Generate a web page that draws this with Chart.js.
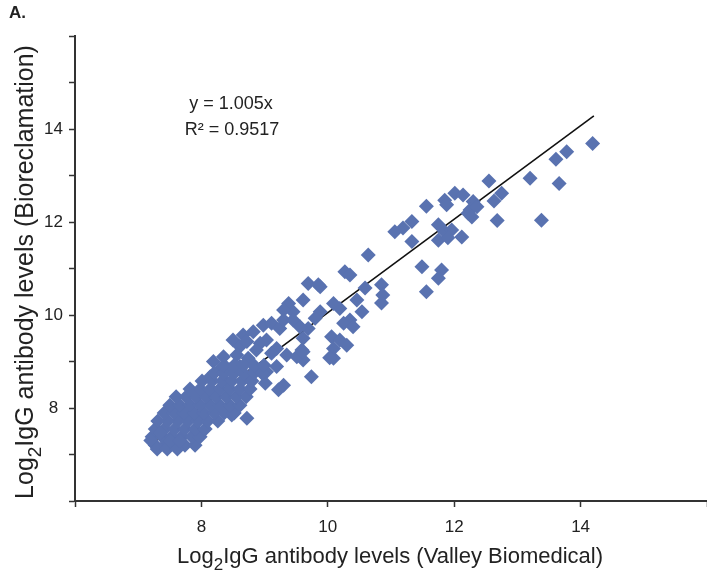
<!DOCTYPE html>
<html>
<head>
<meta charset="utf-8">
<script src="https://cdn.jsdelivr.net/npm/chart.js@4/dist/chart.umd.min.js"></script>
<style>
  body { margin: 0; background: #fff; }
  #wrap { width: 707px; height: 581px; }
</style>
</head>
<body>
<div id="wrap"><canvas id="igChart"></canvas></div>
<script>
// Log2 IgG levels: Valley Biomedical (x) vs Bioreclamation (y)
const valleyX = [
  14.19, 13.78, 13.61, 13.66, 13.2, 12.55, 12.75, 12.63, 12.3, 12.25, 12.68, 13.38,
  11.56, 11.85, 12.01, 12.14, 12.36, 11.88, 12.22, 12.28, 11.06, 11.19, 11.33, 11.33,
  11.75, 11.85, 11.96, 11.75, 12.12, 11.9, 11.49, 11.8, 11.75, 11.56, 10.85, 10.87, 10.85,
  10.64, 10.27, 10.35, 9.69, 9.88, 9.61, 10.59, 10.19, 10.46, 10.54, 10.35, 10.25, 10.4,
  9.88, 9.8, 9.69, 9.61, 10.06, 10.19, 10.3, 10.09, 10.09, 9.74, 9.59, 9.61,
  9.85, 9.38, 9.45, 9.3, 10.09, 10.03,
  8.5, 8.66, 8.82, 8.98, 9.11, 9.24, 9.3, 9.45, 9.56, 8.61, 8.93, 9.03, 9.19, 9.35, 9.51, 9.61,
  8.19, 8.35, 8.29, 8.14, 8.45, 8.61, 8.74, 8.85, 9.03, 9.19, 9.3, 9.01,
  8.87, 9.11, 8.72, 8.56, 8.37, 8.77,
  8.72, 8.48, 8.29, 9.22,
  7.27, 7.42, 7.58, 7.74, 7.9,
  7.22, 7.38, 7.53, 7.69, 7.85, 7.98,
  7.27, 7.42, 7.58, 7.74, 7.9, 8.06,
  7.31, 7.47, 7.63, 7.79, 7.95, 8.1, 8.26,
  7.41, 7.57, 7.72, 7.88, 8.04, 8.2, 8.36, 8.52,
  7.5, 7.66, 7.82, 7.98, 8.14, 8.29, 8.45, 8.61,
  7.6, 7.76, 7.91, 8.07, 8.23, 8.39, 8.55, 8.71,
  7.82, 7.98, 8.14, 8.29, 8.45, 8.61, 8.77,
  8.01, 8.17, 8.33, 8.48, 8.64, 8.8,
  8.2, 8.36, 8.52, 8.67, 8.83, 8.96,
  8.36, 8.52, 8.67, 8.83, 8.99,
  7.2, 7.3, 7.46, 7.62, 7.35, 7.5, 7.66
];
const bioY = [
  13.69, 13.51, 13.35, 12.83, 12.94, 12.88, 12.62, 12.45, 12.44, 12.26, 12.03, 12.04,
  12.34, 12.47, 12.62, 12.58, 12.33, 12.37, 12.19, 12.11, 11.79, 11.87, 12.01, 11.58,
  11.94, 11.79, 11.83, 11.61, 11.68, 11.66, 11.04, 10.97, 10.79, 10.5, 10.65, 10.43, 10.26,
  11.29, 10.93, 10.86, 10.68, 10.61, 10.32, 10.58, 10.14, 10.32, 10.07, 9.89, 9.82, 9.75,
  10.07, 9.93, 9.71, 9.5, 9.53, 9.46, 9.35, 9.28, 9.07, 8.67, 9.25, 9.03,
  10.65, 10.25, 10.07, 10.11, 10.25, 9.08,
  9.46, 9.57, 9.64, 9.78, 9.82, 9.71, 9.89, 9.89, 9.75, 9.32, 9.39, 9.46, 9.28, 9.14, 9.1, 9.21,
  9.0, 9.1, 8.82, 8.67, 8.82, 8.89, 9.07, 8.82, 8.78, 8.89, 8.49, 8.53,
  9.25, 9.18, 9.43, 9.14, 8.6, 8.6,
  7.78, 7.85, 8.03, 8.39,
  7.2, 7.2, 7.2, 7.2, 7.2,
  7.38, 7.38, 7.38, 7.38, 7.38, 7.38,
  7.55, 7.55, 7.55, 7.55, 7.55, 7.55,
  7.72, 7.72, 7.72, 7.72, 7.72, 7.72, 7.72,
  7.89, 7.89, 7.89, 7.89, 7.89, 7.89, 7.89, 7.89,
  8.06, 8.06, 8.06, 8.06, 8.06, 8.06, 8.06, 8.06,
  8.24, 8.24, 8.24, 8.24, 8.24, 8.24, 8.24, 8.24,
  8.41, 8.41, 8.41, 8.41, 8.41, 8.41, 8.41,
  8.58, 8.58, 8.58, 8.58, 8.58, 8.58,
  8.75, 8.75, 8.75, 8.75, 8.75, 8.75,
  8.92, 8.92, 8.92, 8.92, 8.92,
  7.3, 7.12, 7.12, 7.12, 7.47, 7.29, 7.29
];

// fitted line y = 1.005x, drawn between its two end points
const trendX = [7.22, 14.21];
const trendY = [7.256, 14.28];

const xTickLabels = [8, 10, 12, 14];
const yTickLabels = [8, 10, 12, 14];

const points = valleyX.map((v, i) => ({ x: v, y: bioY[i] }));
const trend = trendX.map((v, i) => ({ x: v, y: trendY[i] }));

const FONT = "'Liberation Sans', Arial, sans-serif";
const AXIS = "#333333";

function drawSubText(ctx, cx, cy, before, sub, after, size) {
	ctx.font = size + "px " + FONT;
	const w1 = ctx.measureText(before).width;
	const w3 = ctx.measureText(after).width;
	ctx.font = Math.round(size * 0.75) + "px " + FONT;
	const w2 = ctx.measureText(sub).width;
	let x = cx - (w1 + w2 + w3) / 2;
	ctx.textAlign = "left";
	ctx.textBaseline = "alphabetic";
	ctx.font = size + "px " + FONT;
	ctx.fillText(before, x, cy);
	x += w1;
	ctx.font = Math.round(size * 0.75) + "px " + FONT;
	ctx.fillText(sub, x, cy + size * 0.32);
	x += w2;
	ctx.font = size + "px " + FONT;
	ctx.fillText(after, x, cy);
}

const decor = {
	id: "decor",
	afterDraw(chart) {
		const ctx = chart.ctx;
		ctx.save();
		ctx.fillStyle = "#222";

		ctx.font = "bold 17px " + FONT;
		ctx.textAlign = "left";
		ctx.textBaseline = "middle";
		ctx.fillText("A.", 9, 13);

		ctx.font = "18px " + FONT;
		ctx.textAlign = "center";
		ctx.fillText("y = 1.005x", 231, 104);
		ctx.fillText("R\u00b2 = 0.9517", 232, 130);

		drawSubText(ctx, 390, 563, "Log", "2", "IgG antibody levels (Valley Biomedical)", 22);

		ctx.translate(33, 272);
		ctx.rotate(-Math.PI / 2);
		drawSubText(ctx, 0, 0, "Log", "2", "IgG antibody levels (Bioreclamation)", 25);
		ctx.restore();
	},
};

new Chart(document.getElementById("igChart"), {
	type: "scatter",
	data: {
		datasets: [
			{
				label: "samples",
				data: points,
				pointStyle: "rectRot",
				pointRadius: 7.5,
				pointBorderWidth: 0,
				backgroundColor: "rgb(89, 114, 176)",
				borderColor: "rgb(89, 114, 176)",
			},
			{
				label: "fit",
				type: "line",
				data: trend,
				borderColor: "#111",
				borderWidth: 1.6,
				pointRadius: 0,
				fill: false,
			},
		],
	},
	options: {
		responsive: true,
		maintainAspectRatio: false,
		animation: false,
		layout: { autoPadding: false, padding: { top: 36, left: 0, right: 0, bottom: 0 } },
		plugins: { legend: { display: false }, tooltip: { enabled: false } },
		scales: {
			x: {
				type: "linear",
				min: 6,
				max: 16,
				ticks: {
					stepSize: 2,
					padding: 10,
					color: "#222",
					font: { family: FONT, size: 17 },
					maxRotation: 0,
					callback: (v) => (xTickLabels.includes(v) ? String(v) : ""),
				},
				grid: { drawOnChartArea: false, tickLength: 6, tickColor: AXIS, tickWidth: 1.5 },
				border: { display: true, color: AXIS, width: 2 },
				afterFit(scale) {
					scale.height = 80;
					scale.paddingLeft = 0;
					scale.paddingRight = 0;
				},
			},
			y: {
				type: "linear",
				min: 6,
				max: 16,
				ticks: {
					stepSize: 1,
					padding: 6,
					crossAlign: "center",
					color: "#222",
					font: { family: FONT, size: 17 },
					callback: (v) => (yTickLabels.includes(v) ? String(v) : ""),
				},
				grid: { drawOnChartArea: false, tickLength: 6, tickColor: AXIS, tickWidth: 1.5 },
				border: { display: true, color: AXIS, width: 2 },
				afterFit(scale) {
					scale.width = 75;
				},
			},
		},
	},
	plugins: [decor],
});
</script>
</body>
</html>
